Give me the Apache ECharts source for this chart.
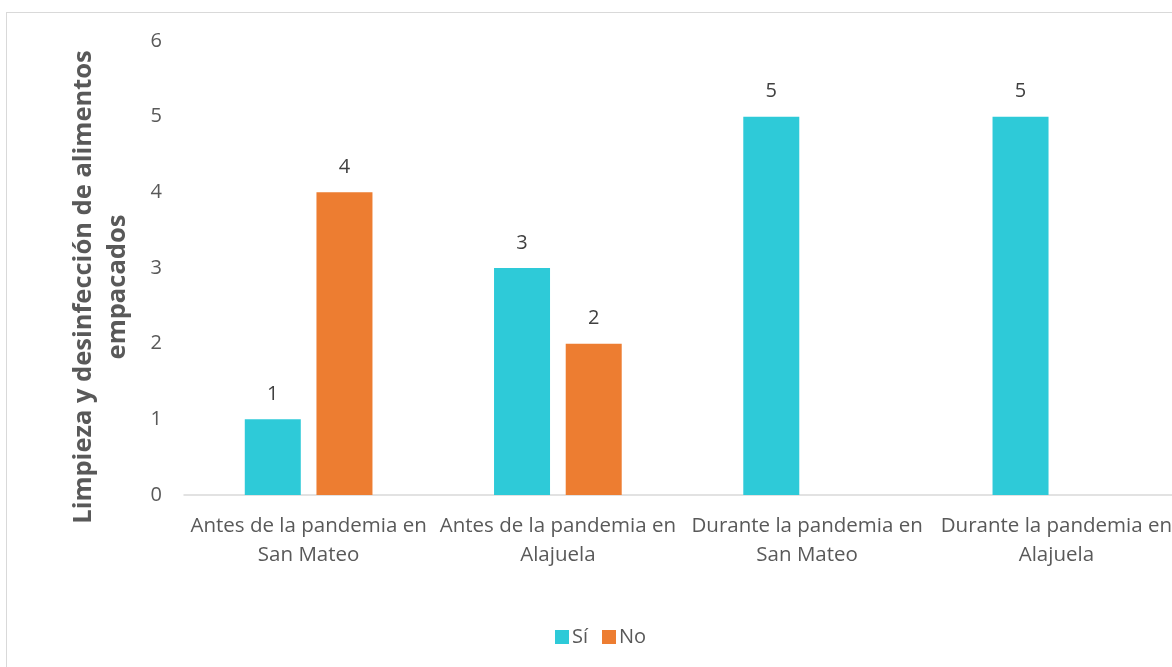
<!DOCTYPE html>
<html>
<head>
<meta charset="utf-8">
<script src="https://cdn.jsdelivr.net/npm/echarts@6/dist/echarts.min.js"></script>
<style>
  html, body { margin: 0; padding: 0; overflow: hidden; background: #fff; }
  #frame { position: absolute; left: 6px; top: 12px; width: 1200px; height: 680px; border: 1px solid #d9d9d9; }
  #chart { width: 1200px; height: 680px; }
</style>
</head>
<body>
<div id="frame"><div id="chart"></div></div>
<script>
// categorías y valores
var categories = [
    'Antes de la pandemia en\nSan Mateo',
    'Antes de la pandemia en\nAlajuela',
    'Durante la pandemia en\nSan Mateo',
    'Durante la pandemia en\nAlajuela'
]
var siValues = [1, 3, 5, 5]
var noValues = [4, 2, 0, 0]
var yTicks = [0, 1, 2, 3, 4, 5, 6]

var font = '"Open Sans", "Noto Sans", sans-serif'

var labelOpt = {
    show: true,
    position: 'top',
    distance: 15,
    fontFamily: font,
    fontSize: 20,
    color: '#404040',
    formatter: function (p) { return p.value === 0 ? '' : p.value }
}

var option = {
    animation: false,
    textStyle: { fontFamily: font },
    grid: { left: 177, top: 28, width: 997, height: 454, containLabel: false },
    legend: {
        left: 543,
        top: 609,
        itemWidth: 14,
        itemHeight: 14,
        itemGap: 14,
        icon: 'rect',
        textStyle: { fontFamily: font, fontSize: 20, color: '#595959', padding: [0, 0, 0, -2] },
        data: ['Sí', 'No']
    },
    graphic: [{
        type: 'text',
        x: 94,
        y: 274,
        rotation: Math.PI / 2,
        style: {
            text: 'Limpieza y desinfección de alimentos\nempacados',
            fontFamily: font,
            fontWeight: 'bold',
            fontSize: 25.5,
            lineHeight: 34,
            fill: '#595959',
            align: 'center',
            verticalAlign: 'middle'
        }
    }],
    xAxis: {
        type: 'category',
        data: categories,
        axisLine: { lineStyle: { color: '#d9d9d9', width: 1.5 } },
        axisTick: { show: false },
        axisLabel: {
            interval: 0,
            margin: 17,
            fontFamily: font,
            fontSize: 20.5,
            lineHeight: 29,
            color: '#595959'
        }
    },
    yAxis: {
        type: 'value',
        min: yTicks[0],
        max: yTicks[yTicks.length - 1],
        interval: 1,
        axisLine: { show: false },
        axisTick: { show: false },
        splitLine: { show: false },
        axisLabel: { margin: 22, fontFamily: font, fontSize: 20, color: '#595959' }
    },
    series: [{
        name: 'Sí',
        type: 'bar',
        data: siValues,
        barWidth: 56,
        barGap: '28%',
        itemStyle: { color: '#2ecad8' },
        label: labelOpt
    }, {
        name: 'No',
        type: 'bar',
        data: noValues,
        barWidth: 56,
        itemStyle: { color: '#ed7d31' },
        label: labelOpt
    }]
}

var myChart = echarts.init(document.getElementById('chart'))
myChart.setOption(option)
</script>
</body>
</html>
